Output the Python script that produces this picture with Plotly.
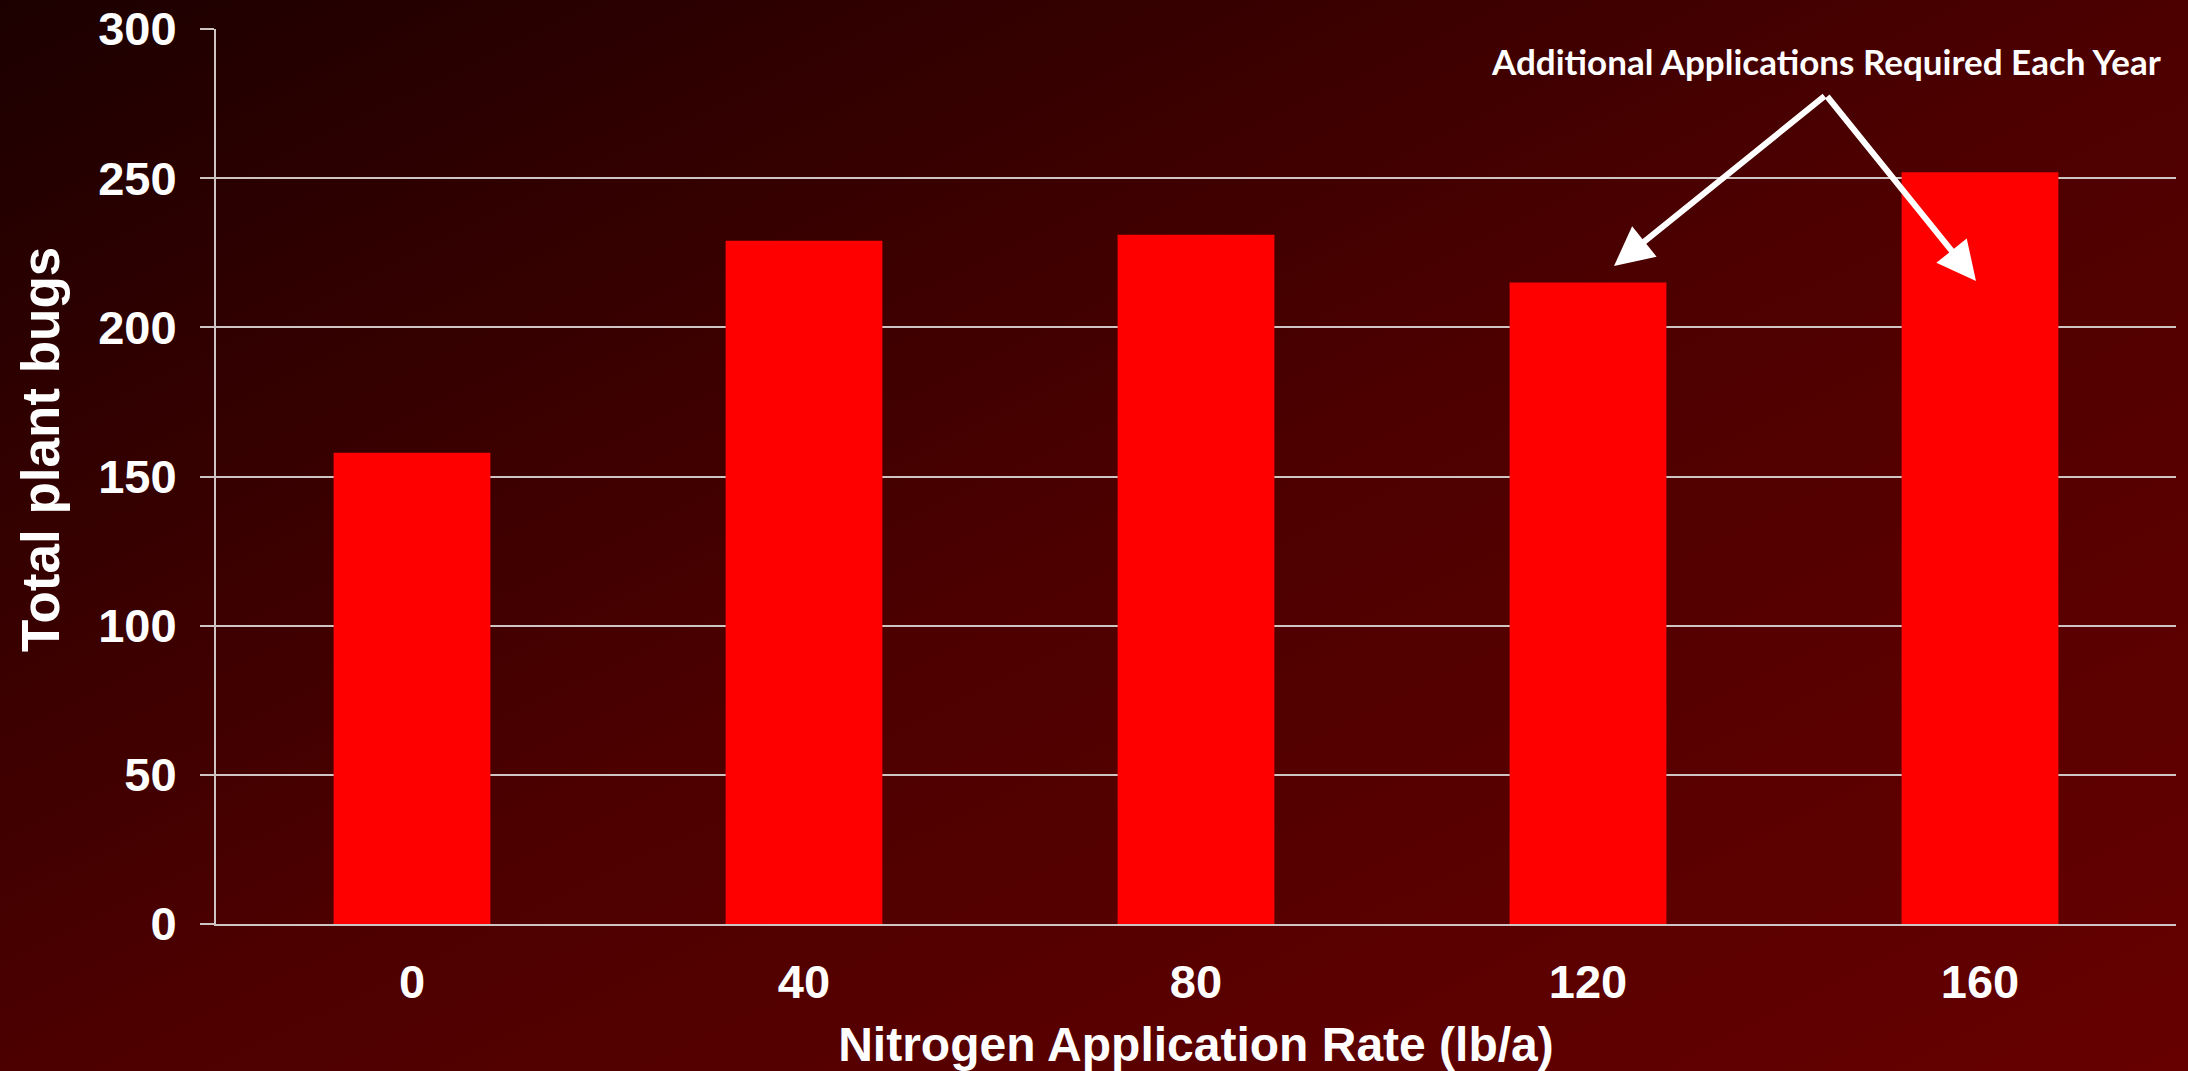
import base64
import plotly.graph_objects as go

# ---- data ----
nitrogen_rates = ["0", "40", "80", "120", "160"]
total_plant_bugs = [158, 229, 231, 215, 252]
y_ticks = [0, 50, 100, 150, 200, 250, 300]

W, H = 2188, 1071

# background gradient (dark top-left -> red-brown bottom-right)
svg = (
    f'<svg xmlns="http://www.w3.org/2000/svg" width="{W}" height="{H}" '
    f'viewBox="0 0 {W} {H}" preserveAspectRatio="none">'
    '<defs><linearGradient id="g" x1="0" y1="0" x2="1" y2="1">'
    '<stop offset="0" stop-color="#1c0000"/>'
    '<stop offset="0.5" stop-color="#4c0000"/>'
    '<stop offset="1" stop-color="#660000"/>'
    '</linearGradient></defs>'
    f'<rect x="0" y="0" width="{W}" height="{H}" fill="url(#g)"/></svg>'
)
bg_uri = "data:image/svg+xml;base64," + base64.b64encode(svg.encode()).decode()

fig = go.Figure()
fig.add_trace(go.Bar(
    x=nitrogen_rates,
    y=total_plant_bugs,
    marker=dict(color="#ff0000", line=dict(width=0)),
    width=0.4,
    showlegend=False,
))

grid_col = "#cfc4c4"
axis_font = dict(family="Liberation Sans, Arial, sans-serif", size=47, color="white", weight="bold")

fig.update_layout(
    template="none",
    width=W, height=H,
    margin=dict(l=0, r=0, t=0, b=0),
    paper_bgcolor="#3a0000",
    plot_bgcolor="rgba(0,0,0,0)",
    images=[dict(source=bg_uri, xref="paper", yref="paper", x=0, y=1,
                 sizex=1, sizey=1, sizing="stretch", layer="below",
                 xanchor="left", yanchor="top")],
    xaxis=dict(
        type="category",
        domain=[216 / W, 2176 / W],
        showgrid=False,
        showline=True, linecolor=grid_col, linewidth=2,
        ticks="", tickfont=axis_font, ticklabelstandoff=16,
        automargin=False,
        title=dict(text="Nitrogen Application Rate (lb/a)", font=dict(
            family="Liberation Sans, Arial, sans-serif", size=48, color="white", weight="bold"),
            standoff=22),
    ),
    yaxis=dict(
        range=[0, 300],
        tickvals=y_ticks,
        domain=[1 - 924 / H, 1 - 29 / H],
        showgrid=True, gridcolor=grid_col, gridwidth=2,
        showline=True, linecolor=grid_col, linewidth=2,
        ticks="outside", ticklen=14, tickcolor=grid_col, tickwidth=2,
        tickfont=axis_font, ticklabelstandoff=14,
        zeroline=False,
        automargin=False,
    ),
    bargap=0.6,
)

# y-axis title (sits slightly above the plot's vertical centre in the original)
fig.add_annotation(
    text="Total plant bugs", textangle=-90,
    xref="paper", yref="paper", x=40 / W, y=1 - 450 / H,
    xanchor="center", yanchor="middle", showarrow=False,
    font=dict(family="Liberation Sans, Arial, sans-serif", size=53, color="white", weight="bold"),
)

# callout text and arrows
fig.add_annotation(
    text="Additional Applications Required Each Year",
    xref="paper", yref="paper", x=1826 / W, y=1 - 61 / H,
    xanchor="center", yanchor="middle",
    showarrow=False,
    font=dict(family="Lato, Open Sans, sans-serif", size=35, color="white", weight="bold"),
)
for tip_px in [(1614, 266), (1976, 281)]:
    fig.add_annotation(
        text="", xref="paper", yref="paper",
        x=tip_px[0] / W, y=1 - tip_px[1] / H,
        axref="pixel", ayref="pixel",
        ax=(1826 - tip_px[0]), ay=(95 - tip_px[1]),
        showarrow=True, arrowhead=2, arrowsize=1.3, arrowwidth=6,
        arrowcolor="white",
    )

fig.write_html(
    "out.html",
    config={"displayModeBar": False},
    post_script="document.body.style.margin='0';document.body.style.overflow='hidden';",
)
